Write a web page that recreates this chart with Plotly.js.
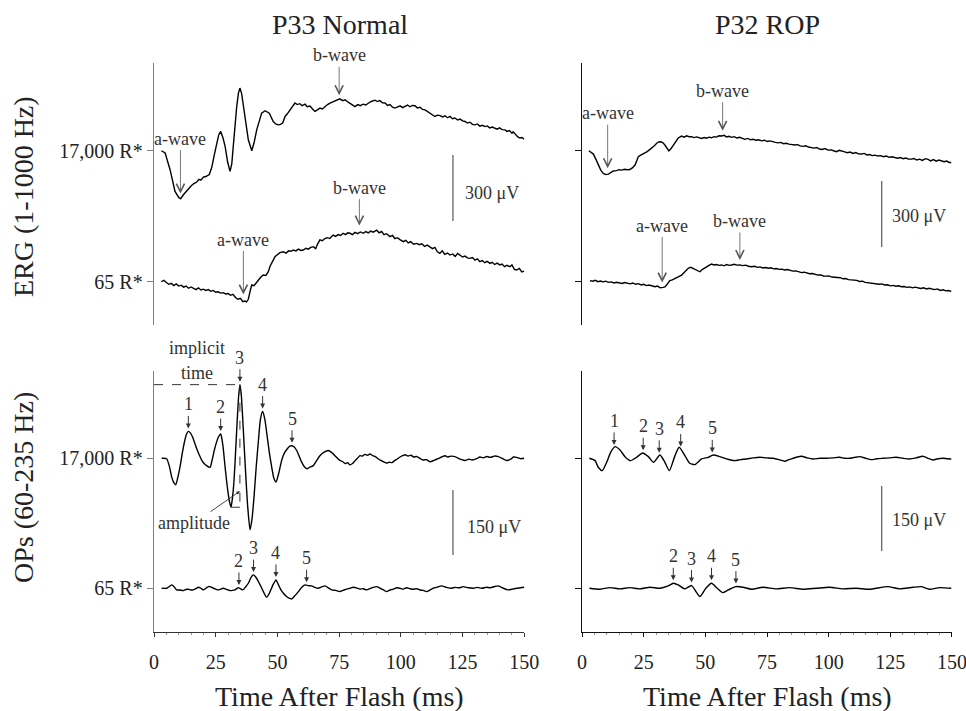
<!DOCTYPE html>
<html><head><meta charset="utf-8">
<script src="https://cdn.plot.ly/plotly-3.0.1.min.js"></script>
<style>html,body{margin:0;padding:0;background:#fff}#chart{width:966px;height:711px}</style>
</head><body><div id="chart"></div>
<script>
// ---------- DATA (time in ms, amplitude in microvolts relative to each trace's baseline) ----------
const panelTitles = ['P33 Normal', 'P32 ROP'];
const intensityLabels = ['65 R*', '17,000 R*'];
const xTickVals = [0, 25, 50, 75, 100, 125, 150];

// ERG (1-1000 Hz), P33 Normal, 17,000 R*
const normErgHi = [[3,0],[4.5,-10],[6.5,-86],[8.5,-185],[10,-212],[10.8,-218],[11.9,-200],[13,-185],[13.9,-172],[15,-160],[16,-150],[17.3,-142],[18.2,-130],[19,-134],[20,-120],[21,-117],[22.4,-108],[23.4,-75],[24.4,-20],[25.4,35],[26.2,72],[27,88],[27.9,60],[28.8,20],[29.8,-50],[30.8,-94],[31.5,-60],[32.1,20],[32.8,120],[33.5,201],[34.2,262],[34.8,285],[35.5,260],[36.2,201],[37.2,120],[38.2,50],[39.6,0],[40.6,40],[41.6,95],[42.6,140],[43.6,171],[45,182],[46.7,171],[48.3,133],[49.3,122],[50.3,118],[51.2,120],[52.1,126],[53.1,156],[54,168],[55.1,186],[56,200],[57.1,217],[58,210],[59.1,214],[60,205],[61.2,212],[62,200],[63.2,203],[64.2,190],[65.2,179],[66.2,186],[67.2,194],[68.2,190],[69.3,203],[70.3,210],[71.3,217],[72.5,222],[74,229],[75.3,236],[76.4,228],[77.4,232],[78.5,222],[79.5,214],[80.5,208],[81.4,201],[82.5,210],[83.6,205],[84.7,212],[85.8,208],[86.8,216],[88,224],[89.5,230],[90.5,224],[91.5,228],[92.6,218],[93.6,217],[94.6,206],[95.6,210],[96.6,198],[97.6,194],[98.6,200],[99.7,204],[100.7,196],[101.7,201],[102.7,208],[103.7,200],[104.7,206],[105.7,205],[106.7,195],[107.8,198],[108.8,188],[109.8,186],[110.8,178],[111.8,172],[112.8,164],[113.8,156],[114.8,162],[115.9,160],[116.9,154],[117.9,159],[118.9,150],[119.9,156],[120.9,146],[121.9,149],[123,140],[124,144],[125,136],[126,133],[127,126],[128,130],[129,120],[130,118],[131,122],[132,112],[133,116],[134.1,110],[135,113],[136,104],[137,108],[138.1,103],[139,98],[140,104],[141,96],[142.2,95],[143,88],[144,92],[145,80],[145.5,86],[146.5,72],[147.3,64],[148.2,58],[149,60],[150,53]];

// ERG, P33 Normal, 65 R*
const normErgLo = [[3,0],[4,6],[5,-4],[6,-12],[7,-8],[8,-18],[9,-10],[10,-20],[11,-16],[12,-25],[13,-20],[14,-30],[15,-24],[16,-32],[17,-36],[18,-28],[19,-38],[20,-34],[21,-40],[22,-36],[23,-44],[24,-40],[25,-48],[26,-46],[27,-52],[28,-50],[29,-56],[30,-54],[31,-62],[32,-58],[33,-72],[34,-80],[35,-76],[36,-91],[36.8,-88],[37.5,-92],[38.2,-80],[39,-40],[39.6,-15],[40.5,-18],[41.6,0],[42.5,10],[43.4,22],[44.3,30],[45.3,28],[46.3,45],[47,70],[47.7,83],[48.4,100],[49,114],[50,125],[51,132],[52.4,136],[53.5,130],[54.5,140],[55.5,138],[56.4,144],[57.5,140],[58.5,148],[59.5,142],[60.5,144],[61.5,152],[62.5,148],[63.5,156],[64.5,159],[65.5,150],[66.3,172],[67.2,190],[68.2,186],[69.2,196],[70.2,200],[71.2,196],[72.6,212],[73.6,206],[74.6,214],[75.6,210],[76.6,220],[77.6,214],[78.5,222],[79.4,220],[80.4,214],[81.4,224],[82.5,218],[83.6,226],[84.8,220],[85.8,228],[86.8,222],[87.8,230],[88.8,225],[90.2,234],[91.2,222],[92.2,228],[93.2,214],[94.2,218],[95.6,205],[96.6,210],[97.6,196],[98.6,200],[99.8,190],[101,182],[102,188],[103,176],[104,182],[105.2,170],[106.4,174],[107.5,168],[108.5,172],[109.6,160],[110.7,166],[111.8,159],[112.8,150],[113.8,156],[114.8,136],[115.8,129],[116.8,140],[117.8,124],[118.9,130],[119.9,121],[121,126],[122,115],[123,128],[123.9,121],[125,112],[126,116],[127,108],[128,106],[129,110],[130,98],[131,104],[132,91],[133,96],[134,86],[135,92],[136.1,83],[137,88],[138,78],[139,84],[140.1,76],[141,80],[142,68],[143,74],[144.2,68],[145,76],[146,56],[146.9,53],[148,60],[149,44],[150,48]];

// ERG, P32 ROP, 17,000 R*
const ropErgHi = [[2.8,0],[4.6,-15],[5.6,-38],[6.6,-65],[7.6,-88],[8.6,-103],[9.6,-108],[10.7,-106],[11.7,-98],[12.7,-92],[14,-90],[15,-86],[16.1,-88],[17.2,-84],[18.3,-86],[19.4,-85],[20.4,-78],[21.5,-65],[22.2,-45],[22.8,-27],[23.8,-20],[24.7,-15],[25.5,-9],[26.4,-4],[27.3,4],[28.2,11],[29.2,22],[30.3,34],[31.1,40],[32,41],[32.8,36],[33.6,26],[34.4,10],[35.2,-1],[36.1,10],[37,26],[38,44],[39,58],[40.4,67],[41.4,62],[42.4,68],[43.4,64],[44.4,64],[45.4,60],[46.5,63],[47.5,58],[48.5,56],[49.5,60],[50.5,57],[51.5,62],[52.5,59],[53.5,64],[54.5,62],[55.5,68],[56.6,67],[57.6,70],[58.6,63],[59.6,66],[60.6,61],[61.7,64],[62.8,58],[63.9,61],[65,55],[66,52],[67.2,56],[68.3,50],[69.4,52],[70.5,48],[71.6,50],[72.8,45],[74,48],[75.1,42],[76.2,45],[77.3,40],[78.4,38],[79.5,36],[80.6,38],[81.7,32],[82.8,34],[83.9,30],[85,28],[86.3,26],[87.4,28],[88.5,22],[89.6,20],[90.7,23],[91.8,17],[93,15],[94.1,12],[95.2,15],[96.3,8],[97.4,6],[98.5,10],[99.8,3],[101,4],[102,0],[103.2,-4],[104.3,2],[105.4,-3],[106.5,-5],[107.6,-9],[108.7,-6],[109.8,-12],[111,-8],[112.1,-14],[113.3,-15],[114.4,-12],[115.5,-19],[116.6,-17],[117.7,-22],[118.8,-20],[120,-24],[121.1,-22],[122.2,-27],[123.4,-24],[124.5,-30],[125.6,-27],[126.8,-30],[128,-34],[129.1,-31],[130.2,-36],[131.3,-33],[132.4,-38],[133.5,-38],[134.6,-35],[135.7,-42],[136.9,-38],[138,-44],[139.2,-36],[140.3,-39],[141.4,-46],[142.5,-40],[143.6,-47],[144.7,-42],[145.7,-45],[146.8,-50],[147.9,-47],[148.8,-53],[149.7,-53]];

// ERG, P32 ROP, 65 R*
const ropErgLo = [[3.2,5],[4.3,2],[5.4,6],[6.5,0],[7.5,3],[8.5,-1],[9.6,2],[10.7,-3],[11.8,-1],[13,-6],[14,-3],[15.1,-5],[16.2,-8],[17.3,-4],[18.4,-7],[19.5,-10],[20.6,-6],[21.7,-12],[22.8,-9],[24,-15],[25,-12],[26.1,-18],[27.2,-15],[28.4,-20],[29.6,-23],[30.6,-20],[31.7,-28],[32.9,-26],[33.6,-24],[34.3,-15],[35,-6],[35.6,5],[36.6,8],[37.7,15],[38.7,20],[39.5,28],[40.4,30],[41.4,42],[42.4,53],[43.2,62],[44.1,65],[45,60],[45.8,53],[46.8,48],[47.8,45],[48.7,55],[49.6,60],[50.5,68],[51.5,74],[52.5,80],[53.5,76],[54.5,78],[55.6,74],[56.6,76],[57.6,72],[58.6,78],[59.6,74],[60.6,76],[61.7,79],[62.8,75],[64,76],[65.1,73],[66.3,75],[67.5,70],[68.7,68],[70,70],[71.1,65],[72.2,67],[73.3,62],[74.4,64],[75.5,61],[76.6,63],[77.7,58],[78.8,60],[79.9,56],[81,57],[82.2,53],[83.3,55],[84.4,50],[85.5,48],[86.7,49],[87.9,44],[89,41],[90.1,43],[91.2,38],[92.3,36],[93.4,37],[94.5,32],[95.7,30],[96.8,31],[97.9,26],[99,25],[100.1,26],[101.3,21],[102.5,20],[103.6,16],[104.7,18],[105.8,13],[106.9,14],[108,9],[109.2,8],[110.3,5],[111.4,6],[112.5,1],[113.7,2],[114.8,-3],[116,-5],[117.1,-4],[118.2,-9],[119.4,-8],[120.5,-12],[121.6,-10],[122.7,-15],[123.9,-14],[125,-19],[126.2,-17],[127.3,-21],[128.4,-19],[129.5,-23],[130.6,-22],[131.8,-26],[132.9,-24],[134,-28],[135.1,-25],[136.2,-27],[137.3,-31],[138.5,-28],[139.6,-33],[140.7,-30],[141.9,-35],[143,-36],[144.1,-33],[145.2,-40],[146.4,-37],[147.5,-42],[148.6,-40],[149.7,-44]];

// OPs (60-235 Hz), P33 Normal, 17,000 R*
const normOpHi = [[3.1,0],[5.1,-1],[6.2,-18],[7.2,-44],[8,-56],[8.8,-61],[9.6,-45],[10.5,-21],[11.4,10],[12.3,37],[13.1,55],[13.9,62],[14.8,58],[15.7,48],[16.5,35],[17.3,22],[18.3,8],[19.3,-4],[20.3,-12],[21.3,-17],[22.7,-21],[23.5,-5],[24.4,18],[25.2,35],[26,48],[27,56],[27.5,45],[28,25],[28.7,-15],[29.4,-52],[30,-80],[30.5,-98],[31.2,-113],[31.8,-90],[32.4,-52],[33,10],[33.7,87],[34.3,145],[34.8,170],[35.3,150],[35.9,95],[36.6,20],[37.3,-52],[38,-115],[38.9,-165],[39.7,-140],[40.5,-90],[41.4,-20],[42.3,41],[43.1,90],[44,108],[44.9,90],[45.9,48],[46.8,10],[47.7,-21],[48.5,-45],[49.4,-55],[50.5,-35],[51.7,-5],[52.8,12],[54,22],[55,28],[55.9,29],[56.8,26],[57.8,18],[58.8,5],[59.8,-9],[61,-20],[62.1,-24],[63.3,-20],[64.5,-17],[65.8,-6],[67.2,6],[68.9,14],[70.6,18],[72,13],[73.3,6],[74.3,0],[75.3,-5],[76.5,-8],[77.5,-12],[78.4,-10],[79.4,-15],[80.4,-12],[81.4,-6],[82.4,0],[83.4,6],[84.4,5],[85.4,9],[86.5,7],[87.5,10],[88.6,6],[89.7,4],[90.8,-1],[91.9,-5],[93,-8],[94.2,-11],[95.3,-9],[96.4,-10],[97.6,-5],[98.7,-1],[99.7,3],[100.7,6],[101.7,8],[102.9,5],[104.1,7],[105.2,3],[106.4,4],[107.7,0],[109,-4],[110.4,-3],[111.8,-8],[113.4,-5],[115.1,-1],[116.5,3],[117.9,6],[119,3],[120.3,5],[121.9,4],[123.3,0],[124.6,-3],[126,-5],[127.5,-2],[129,-4],[130.7,-1],[132,3],[133.4,1],[134.8,4],[136.3,2],[137.8,5],[139.5,4],[141,0],[142.9,-5],[144.5,-2],[145.6,3],[146.9,2],[148.5,-1],[150,0]];

// OPs, P33 Normal, 65 R*
const normOpLo = [[3.1,0],[5.1,0],[6.2,4],[7.2,7.7],[8.2,3],[9.2,-3.8],[10.5,-4],[11.9,-5.4],[12.9,-3],[13.9,-2.3],[14.9,-4],[15.9,-3.8],[17,-1],[18,2.3],[19,0],[20,-3.8],[21,0],[22,3.8],[23,3],[24,0],[25,-2],[26,-3.8],[27,-2],[28.1,0],[29.5,-3],[30.8,-5.4],[31.8,-5],[32.8,-3.8],[33.5,-1],[34.1,1.5],[35,-1],[36,-3.8],[37.1,3],[38.2,11.5],[39.2,24],[40.2,30.8],[41.2,26],[42.3,15.4],[43.3,4],[44.3,-7.7],[45.6,-20.8],[46.5,-14],[47.3,-3.8],[48.4,10],[49.4,19.2],[50.4,8],[51.4,-3.8],[52.5,-12],[53.7,-19.2],[54.7,-23],[55.8,-24.6],[57.1,-17],[58.5,-7.7],[59.8,2],[61.2,7.7],[62.5,6],[63.8,5.4],[65.1,2],[66.5,0],[67.9,3],[69.3,5.4],[70.6,1],[72,-3.8],[73.6,-5],[75.3,-7.7],[76.6,-5],[78,-2],[79.4,0],[80.7,2.3],[82,1],[83.4,-2],[84.7,-1],[86.1,-3.8],[87.5,-1],[88.8,2],[90.2,3.8],[91.6,0],[93,-4],[94.2,-7.7],[95.6,-4],[97,-2],[98.3,1],[99.6,0],[101,-2],[102.3,1],[103.7,-1],[105,-2.3],[106.4,-1],[107.8,-4],[109.1,-5],[110.4,-7.7],[111.8,-4],[113.1,0],[114.5,2],[116.5,5.4],[118.5,2],[120.5,0],[122,2],[123.7,1],[125.3,3.8],[127.3,1],[129.3,0],[131,2],[132.8,0],[134.7,2.3],[136.3,1],[138,4],[139.5,5.4],[141.5,0],[143.5,-3.8],[145.3,-2],[146.9,0],[148.5,1],[150,2.3]];

// OPs, P32 ROP, 17,000 R*
const ropOpHi = [[3,0],[5.3,-5.4],[6.6,-20.8],[8.2,-28.5],[10,-9.2],[11.6,13.8],[13.4,26.9],[15.4,19.2],[17.4,3.8],[19.7,-5.4],[22.1,2.3],[24.6,12.3],[26.9,3.8],[29,-9.2],[31.6,7.7],[33.6,-9.2],[35.4,-28.5],[37.7,6.2],[39.4,25.4],[41.7,6.2],[43.7,-11.5],[45.8,-14.6],[48.5,-1.5],[51.2,2.3],[53.2,7.7],[55.9,3.8],[58.6,-1.5],[60.3,-4],[62,-5.4],[64.3,-3],[66.7,-1.5],[69.4,1],[72.1,2.3],[74.8,1],[77.5,0],[79.8,-3],[82.2,-6.9],[83.9,-3],[85.6,0],[87.3,3],[89,4.6],[91.3,1],[93.7,-1.5],[96.4,0],[99.1,0],[101.8,1],[104.5,2.3],[106.5,0],[108.5,0],[110.5,2],[112.6,3.8],[115,0],[117.3,-3.1],[119.6,-1],[122,0],[124.7,1],[127.4,2.3],[130.1,0],[132.8,-1.5],[135.5,1],[138.2,4.6],[140.3,0],[142.3,-3.8],[144.3,-1],[146.3,0],[148,-1],[149.7,-1.5]];

// OPs, P32 ROP, 65 R*
const ropOpLo = [[3,0],[7.3,-2.3],[11.3,1.5],[15.4,-1.5],[19.4,1.5],[23.5,-1.5],[27.5,2.3],[31.6,0],[34.9,5.4],[37,11.5],[39,7.7],[41.7,-1.5],[44.4,6.2],[46.2,-7.7],[47.8,-19.2],[50.2,0],[52.5,11.5],[54.8,0],[57,-10],[59.3,-3.8],[62.4,3.8],[65.3,2.3],[68.7,-2.3],[73.4,2.3],[78.8,-1.5],[84.2,1.5],[89.6,-2.3],[95,0],[100.4,2.3],[105.8,-1.5],[111.2,0],[116.6,-2.3],[124,3.8],[128.8,-1.5],[134.2,2.3],[137.5,3.8],[140.9,-2.3],[145,1.5],[149.7,0]];

// Marker times (ms)
const ergWaveMarks = {
  normHi: {a: 10.7, b: 75},
  normLo: {a: 36.2, b: 83.2},
  ropHi:  {a: 10.4, b: 57},
  ropLo:  {a: 32.5, b: 64}
};
const opPeakMarks = {
  normHi: [[1,13.9],[2,27],[3,34.8],[4,44],[5,55.9]],
  normLo: [[2,34.4],[3,40.3],[4,49.4],[5,61.8]],
  ropHi:  [[1,13],[2,24.8],[3,31.3],[4,40],[5,52.8]],
  ropLo:  [[2,37],[3,44.4],[4,52.5],[5,62.4]]
};
const ergScaleUV = 300, opScaleUV = 150;

// ---------- LAYOUT CONSTANTS ----------
const ERG_OFFSET = 595, OP_OFFSET = 300;
const FONT = 'Liberation Serif, Times New Roman, Times, serif';

function tv(arr){ return arr.map(p => p[0]); }
function vv(arr, off){ return arr.map(p => p[1] + off); }
function valueAt(arr, t){
  for (let i = 1; i < arr.length; i++){
    if (arr[i][0] >= t){
      const a = arr[i-1], b = arr[i];
      const f = (t - a[0]) / (b[0] - a[0]);
      return a[1] + f * (b[1] - a[1]);
    }
  }
  return arr[arr.length-1][1];
}

const lineStyle = {color: '#000', width: 1.4};
function tr(arr, off, xa, ya, shape){
  return {x: tv(arr), y: vv(arr, off), xaxis: xa, yaxis: ya, type: 'scatter', mode: 'lines',
          line: Object.assign({}, lineStyle, shape ? {shape: 'spline', smoothing: 0.6} : {}), hoverinfo: 'skip'};
}

const traces = [
  tr(normErgHi, ERG_OFFSET, 'x', 'y'),
  tr(normErgLo, 0, 'x', 'y'),
  tr(ropErgHi, ERG_OFFSET, 'x2', 'y2'),
  tr(ropErgLo, 0, 'x2', 'y2'),
  tr(normOpHi, OP_OFFSET, 'x', 'y3', true),
  tr(normOpLo, 0, 'x', 'y3', true),
  tr(ropOpHi, OP_OFFSET, 'x2', 'y4', true),
  tr(ropOpLo, 0, 'x2', 'y4', true)
];

// ---------- ANNOTATIONS ----------
const annFont = {family: FONT, size: 18, color: '#333'};
const anns = [];
function waveNote(arr, off, xa, ya, t, text, ay, standoff){
  anns.push({x: t, y: valueAt(arr, t) + off, xref: xa, yref: ya, text: text, showarrow: true,
    ax: 0, ay: ay, arrowhead: 5, arrowsize: 2.0, arrowwidth: 0.8, arrowcolor: '#555',
    standoff: standoff, font: annFont});
}
waveNote(normErgHi, ERG_OFFSET, 'x', 'y', ergWaveMarks.normHi.a, 'a-wave', -60, 5);
waveNote(normErgHi, ERG_OFFSET, 'x', 'y', ergWaveMarks.normHi.b, 'b-wave', -44, 4);
waveNote(normErgLo, 0, 'x', 'y', ergWaveMarks.normLo.a, 'a-wave', -62, 7);
waveNote(normErgLo, 0, 'x', 'y', ergWaveMarks.normLo.b, 'b-wave', -45, 7);
waveNote(ropErgHi, ERG_OFFSET, 'x2', 'y2', ergWaveMarks.ropHi.a, 'a-wave', -61, 6);
waveNote(ropErgHi, ERG_OFFSET, 'x2', 'y2', ergWaveMarks.ropHi.b, 'b-wave', -45, 5);
waveNote(ropErgLo, 0, 'x2', 'y2', ergWaveMarks.ropLo.a, 'a-wave', -62, 5);
waveNote(ropErgLo, 0, 'x2', 'y2', ergWaveMarks.ropLo.b, 'b-wave', -44, 5);

function peakNotes(arr, off, xa, ya, marks){
  marks.forEach(m => {
    anns.push({x: m[1], y: valueAt(arr, m[1]) + off, xref: xa, yref: ya, text: String(m[0]),
      showarrow: true, ax: 0, ay: -27, arrowhead: 2, arrowsize: 1, arrowwidth: 1, arrowcolor: '#333',
      standoff: 3, font: annFont});
  });
}
peakNotes(normOpHi, OP_OFFSET, 'x', 'y3', opPeakMarks.normHi);
peakNotes(normOpLo, 0, 'x', 'y3', opPeakMarks.normLo);
peakNotes(ropOpHi, OP_OFFSET, 'x2', 'y4', opPeakMarks.ropHi);
peakNotes(ropOpLo, 0, 'x2', 'y4', opPeakMarks.ropLo);

// implicit time / amplitude construction from the data
function extremum(arr, t0, t1, useMax){
  let best = null;
  arr.forEach(p => { if (p[0] >= t0 && p[0] <= t1){ if (!best || (useMax ? p[1] > best[1] : p[1] < best[1])) best = p; } });
  return best;
}
const op3 = extremum(normOpHi, 30, 40, true);
const opTr = extremum(normOpHi, 29, 33, false);

anns.push({x: op3[0] / 2, y: op3[1] + OP_OFFSET, xref: 'x', yref: 'y3', text: 'time', showarrow: false,
  yshift: 12, font: annFont});
anns.push({x: op3[0] / 2, y: op3[1] + OP_OFFSET, xref: 'x', yref: 'y3', text: 'implicit', showarrow: false,
  yshift: 37, font: annFont});
anns.push({x: op3[0], y: opTr[1] + OP_OFFSET + 37, xref: 'x', yref: 'y3', text: 'amplitude', showarrow: true,
  ax: -46, ay: 32, arrowhead: 2, arrowsize: 0.8, arrowwidth: 0.9, arrowcolor: '#333', standoff: 0, font: annFont});

// scale bar labels
const sbFont = {family: FONT, size: 18, color: '#333'};
anns.push({x: 125, y: 403, xref: 'x', yref: 'y', text: ergScaleUV + ' \u03BCV', showarrow: false, xanchor: 'left', font: sbFont});
anns.push({x: 124.7, y: 299, xref: 'x2', yref: 'y2', text: ergScaleUV + ' \u03BCV', showarrow: false, xanchor: 'left', font: sbFont});
anns.push({x: 126, y: 142, xref: 'x', yref: 'y3', text: opScaleUV + ' \u03BCV', showarrow: false, xanchor: 'left', font: sbFont});
anns.push({x: 124.7, y: 157, xref: 'x2', yref: 'y4', text: opScaleUV + ' \u03BCV', showarrow: false, xanchor: 'left', font: sbFont});

// titles
const titleFont = {family: FONT, size: 28, color: '#222'};
function paperText(x, y, text, angle){
  anns.push({x: x, y: y, xref: 'paper', yref: 'paper', xanchor: 'center', yanchor: 'middle',
    text: text, textangle: angle || 0, showarrow: false, font: titleFont});
}
paperText(0.3515, 1 - 25/711, panelTitles[0]);
paperText(0.794, 1 - 25/711, panelTitles[1]);
paperText(23/966, 1 - 197/711, 'ERG (1-1000 Hz)', -90);
paperText(23/966, 1 - 488/711, 'OPs (60-235 Hz)', -90);
paperText(0.3515, 1 - 696/711, 'Time After Flash (ms)');
paperText(0.794, 1 - 696/711, 'Time After Flash (ms)');

// ---------- SHAPES ----------
const barStyle = {color: '#666', width: 1.3};
const shapes = [
  {type: 'line', xref: 'x', yref: 'y', x0: 121.1, x1: 121.1, y0: 276, y1: 276 + ergScaleUV, line: barStyle},
  {type: 'line', xref: 'x2', yref: 'y2', x0: 121.5, x1: 121.5, y0: 158, y1: 158 + ergScaleUV, line: barStyle},
  {type: 'line', xref: 'x', yref: 'y3', x0: 121.1, x1: 121.1, y0: 77, y1: 77 + opScaleUV, line: barStyle},
  {type: 'line', xref: 'x2', yref: 'y4', x0: 121.5, x1: 121.5, y0: 86, y1: 86 + opScaleUV, line: barStyle},
  {type: 'line', xref: 'x', yref: 'y3', x0: 0, x1: op3[0], y0: op3[1] + OP_OFFSET, y1: op3[1] + OP_OFFSET, line: {color: '#333', width: 1, dash: 'dash'}},
  {type: 'line', xref: 'x', yref: 'y3', x0: op3[0], x1: op3[0], y0: op3[1] + OP_OFFSET, y1: opTr[1] + OP_OFFSET, line: {color: '#333', width: 1, dash: 'dash'}},
  {type: 'line', xref: 'x', yref: 'y3', x0: opTr[0], x1: op3[0], y0: opTr[1] + OP_OFFSET, y1: opTr[1] + OP_OFFSET, line: {color: '#333', width: 1}}
];

// ---------- AXES ----------
function xAxis(domain, anchor, lineColor){
  return {domain: domain, anchor: anchor, range: [-0.01, 150.01], tickvals: xTickVals, ticktext: xTickVals.map(String),
    showline: true, linecolor: lineColor, linewidth: 1.2, ticks: 'outside', ticklen: 4, tickcolor: lineColor, tickwidth: 1,
    minor: {dtick: 5, tick0: 0, ticks: 'outside', ticklen: 2, tickcolor: '#777', tickwidth: 0.8},
    showgrid: false, zeroline: false, tickfont: {family: FONT, size: 20, color: '#222'}, ticklabelstandoff: 8,
    ticklabeloverflow: 'allow', fixedrange: true};
}
function yAxis(domain, anchor, range, off, lineColor, labels){
  return {domain: domain, anchor: anchor, range: range, tickvals: [0, off], ticktext: [intensityLabels[0], intensityLabels[1]],
    showticklabels: labels, showline: true, linecolor: lineColor, linewidth: 1.3, ticks: 'outside', ticklen: 6,
    tickcolor: lineColor, tickwidth: 1, showgrid: false, zeroline: false,
    tickfont: {family: FONT, size: 20, color: '#222'}, ticklabeloverflow: 'allow', fixedrange: true};
}
const dLeft = [154/966, 524.3/966], dRight = [582/966, 952/966];
const dErg = [1 - 325/711, 1 - 63/711], dOp = [1 - 632/711, 1 - 371/711];
const ergRange = [-197, 994], opRange = [-101, 501.5];

const layout = {
  width: 966, height: 711, margin: {l: 0, r: 0, t: 0, b: 0},
  paper_bgcolor: '#fff', plot_bgcolor: 'rgba(0,0,0,0)', showlegend: false, hovermode: false,
  font: {family: FONT, color: '#222'},
  xaxis: xAxis(dLeft, 'y3', '#333'),
  xaxis2: xAxis(dRight, 'y4', '#111'),
  yaxis: yAxis(dErg, 'x', ergRange, ERG_OFFSET, '#808080', true),
  yaxis2: yAxis(dErg, 'x2', ergRange, ERG_OFFSET, '#111', false),
  yaxis3: yAxis(dOp, 'x', opRange, OP_OFFSET, '#808080', true),
  yaxis4: yAxis(dOp, 'x2', opRange, OP_OFFSET, '#111', false),
  annotations: anns, shapes: shapes
};

Plotly.newPlot('chart', traces, layout, {displayModeBar: false, staticPlot: true});
</script></body></html>
